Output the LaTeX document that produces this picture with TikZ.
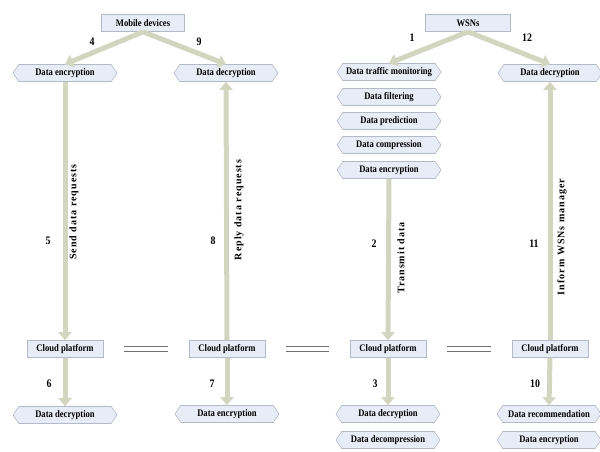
\documentclass[tikz,border=0pt]{standalone}
\usepackage{fontspec}
\setmainfont{Liberation Serif}
\newfontfamily\condfont[FakeStretch=0.86]{Liberation Serif}
\newfontfamily\spacedfont[LetterSpace=10]{Liberation Serif}
\usetikzlibrary{shapes.symbols,arrows.meta}
\definecolor{boxfill}{HTML}{E8ECF6}
\definecolor{boxedge}{HTML}{B4B9C8}
\definecolor{arr}{HTML}{D3D6BF}
\definecolor{eqc}{HTML}{707070}
\tikzset{
  x=1pt,y=-1pt,
  lbl/.style={font=\condfont\bfseries\fontsize{10}{11}\selectfont},
  rectbox/.style={rectangle,draw=boxedge,fill=boxfill,line width=0.6pt,minimum width=76pt,minimum height=17pt,inner sep=0pt,lbl},
  hexbox/.style={signal,signal to=east and west,signal pointer angle=112,draw=boxedge,fill=boxfill,line width=0.6pt,minimum width=104pt,minimum height=17pt,inner sep=0pt,lbl},
  bigarrow/.style={draw=arr,line width=5pt,-{Triangle[width=13pt,length=8pt]}},
  num/.style={font=\condfont\bfseries\fontsize{11.5}{12}\selectfont},
  vlab/.style={font=\spacedfont\bfseries\fontsize{10}{11}\selectfont,rotate=90},
  eqline/.style={draw=eqc,line width=1.3pt}
}
\begin{document}
\begin{tikzpicture}
\useasboundingbox (0,0) rectangle (600,451);
% top sources
\node[rectbox,minimum width=83pt] (md) at (143,23) {Mobile devices};
\node[rectbox,minimum width=85pt] (wsn) at (468,23) {WSNs};
% second row
\node[hexbox] (a1) at (65,73) {Data encryption};
\node[hexbox] (a2) at (226,73) {Data decryption};
\node[hexbox] (a3) at (389,72) {Data traffic monitoring};
\node[hexbox] (a4) at (550,73) {Data decryption};
\node[hexbox] (f1) at (389,97) {Data filtering};
\node[hexbox] (f2) at (389,121) {Data prediction};
\node[hexbox] (f3) at (389,145) {Data compression};
\node[hexbox] (f4) at (389,170) {Data encryption};
% cloud platforms
\node[rectbox] (c1) at (65,349) {Cloud platform};
\node[rectbox] (c2) at (227,349) {Cloud platform};
\node[rectbox] (c3) at (388,349) {Cloud platform};
\node[rectbox] (c4) at (550,349) {Cloud platform};
% bottom row
\node[hexbox] (b1) at (65,415) {Data decryption};
\node[hexbox] (b2) at (227,414) {Data encryption};
\node[hexbox] (b3) at (388,414) {Data decryption};
\node[hexbox] (b3b) at (388,440) {Data decompression};
\node[hexbox] (b4) at (549,414) {Data recommendation};
\node[hexbox] (b4b) at (549,440) {Data encryption};
% arrows
\draw[bigarrow] (md.south) -- (a1.north);
\draw[bigarrow] (md.south) -- (a2.north);
\draw[bigarrow] (wsn.south) -- (a3.north);
\draw[bigarrow] (wsn.south) -- (a4.north);
\draw[bigarrow] (a1.south) -- (c1.north);
\draw[bigarrow] (c2.north) -- (a2.south);
\draw[bigarrow] (f4.south) -- (c3.north);
\draw[bigarrow] (c4.north) -- (a4.south);
\draw[bigarrow] (c1.south) -- (b1.north);
\draw[bigarrow] (c2.south) -- (b2.north);
\draw[bigarrow] (c3.south) -- (b3.north);
\draw[bigarrow] (c4.south) -- (b4.north);
% equal signs
\foreach \l/\r in {c1/c2,c2/c3,c3/c4}{
  \draw[eqline] ([xshift=21pt,yshift=2.5pt]\l.east) -- ([xshift=-21pt,yshift=2.5pt]\r.west);
  \draw[eqline] ([xshift=21pt,yshift=-2.5pt]\l.east) -- ([xshift=-21pt,yshift=-2.5pt]\r.west);
}
% numbers
\node[num] (n4) at (92,42) {4};
\node[num] (n9) at (199,42) {9};
\node[num] (n1) at (412,38) {1};
\node[num] (n12) at (527,38) {12};
\node[num] (n5) at (48,241) {5};
\node[num] (n8) at (213,241) {8};
\node[num] (n2) at (374,244) {2};
\node[num] (n11) at (534,244) {11};
\node[num] (n6) at (49,384) {6};
\node[num] (n7) at (212,384) {7};
\node[num] (n3) at (375,384) {3};
\node[num] (n10) at (535,384) {10};
% vertical labels
\node[vlab] (v1) at (74,212) {Send data requests};
\node[vlab] (v2) at (239,210) {Reply data requests};
\node[vlab] (v3) at (401,258) {Transmit data};
\node[vlab] (v4) at (562,237) {Inform WSNs manager};
\end{tikzpicture}
\end{document}
